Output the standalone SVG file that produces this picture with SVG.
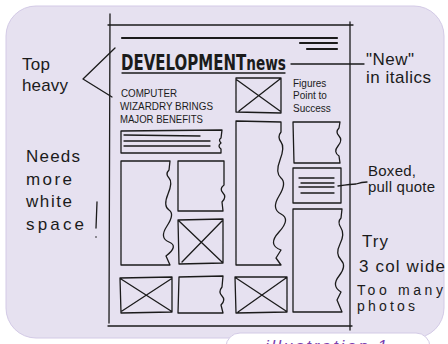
<svg xmlns="http://www.w3.org/2000/svg" width="448" height="344" viewBox="0 0 448 344">
<defs>
<style>
.ink{fill:none;stroke:#1b1b1b;stroke-width:1.3;stroke-linecap:round;stroke-linejoin:round}
.thick{fill:none;stroke:#1b1b1b;stroke-width:2.2;stroke-linecap:round}
.hand{font-family:"Liberation Sans","DejaVu Sans",sans-serif;font-size:17px;fill:#1b1b1b}
.hs{font-family:"Liberation Sans","DejaVu Sans",sans-serif;font-size:15px;fill:#1b1b1b}
.hx{font-family:"Liberation Sans","DejaVu Sans",sans-serif;font-size:14px;fill:#1b1b1b}
.small{font-family:"Liberation Sans","DejaVu Sans",sans-serif;font-size:11px;fill:#1b1b1b}
.tiny{font-family:"Liberation Sans","DejaVu Sans",sans-serif;font-size:10px;fill:#1b1b1b}
.title{font-family:"DejaVu Sans","Liberation Sans",sans-serif;font-stretch:condensed;font-weight:bold;font-size:22px;fill:#1b1b1b}
</style>
</defs>
<rect width="448" height="344" fill="#ffffff"/>
<rect x="6" y="6" width="438" height="332" rx="30" fill="#e6e1f0" stroke="#d3cae6" stroke-width="1"/>
<g id="tab">
<rect x="226" y="333" width="204" height="30" rx="14" fill="#ffffff" stroke="#d3cae6" stroke-width="1"/>
<text x="265" y="352" font-family="Liberation Sans, DejaVu Sans, sans-serif" font-size="17" font-style="italic" fill="#7a3fb0" textLength="122">illustration 1</text>
</g>
<g id="page">
<path class="ink" d="M110,14 L109,323"/>
<path class="ink" d="M108,25 L353,25"/>
<path class="ink" d="M350,22 L350,330"/>
<path class="ink" d="M108,326 L352,326"/>
<path class="thick" d="M122,38 L337,38"/>
<path class="thick" d="M300,43 L337,43"/>
<path class="thick" d="M307,49 L337,49"/>
</g>
<g id="headline">
<text class="title" x="121" y="70" textLength="165" lengthAdjust="spacingAndGlyphs">DEVELOPMENT<tspan font-size="20">news</tspan></text>
<path class="ink" d="M122,73 L285,73"/>
</g>
<g id="subhead">
<text class="small" x="121" y="97" textLength="56" lengthAdjust="spacingAndGlyphs">COMPUTER</text>
<text class="small" x="120" y="110" textLength="93" lengthAdjust="spacingAndGlyphs">WIZARDRY BRINGS</text>
<text class="small" x="120" y="123" textLength="83" lengthAdjust="spacingAndGlyphs">MAJOR BENEFITS</text>
</g>
<g id="intro-box">
<path class="ink" d="M121,131 L222,130 L221,138 Q218,140 221,143 Q217,146 221,149 L221,153 L121,153 Z"/>
<path class="ink" d="M124,135 L200,136 M124,141 L210,141 M124,146 L210,146"/>
</g>
<g id="col1-story">
<path class="ink" d="M121,161 L170,161 L169,170 Q165,174 169,178 T168,194 T169,210 T167,226 T169,242 T166,256 L170,265 L121,265 Z"/>
</g>
<g id="col2-story">
<path class="ink" d="M178,161 L224,161 L224,185 Q219,189 223,193 T222,202 L223,211 L178,211 Z"/>
</g>
<g id="col2-photo">
<path class="ink" d="M178,220 L223,219 L223,263 L179,264 Z M179,221 L222,262 M222,221 L182,262"/>
</g>
<g id="bottom-photo-1">
<path class="ink" d="M120,278 L172,277 L172,312 L121,313 Z M121,279 L171,311 M171,279 L122,311"/>
</g>
<g id="bottom-story">
<path class="ink" d="M179,277 L223,276 L222,287 Q218,292 222,296 T221,305 L223,313 L178,313 Z"/>
</g>
<g id="bottom-photo-2">
<path class="ink" d="M235,277 L287,277 L287,312 L236,313 Z M236,278 L286,311 M286,278 L238,312"/>
</g>
<g id="mid-photo">
<path class="ink" d="M236,78 L281,78 L281,113 L236,112 Z M237,80 L280,111 M280,79 L239,111"/>
</g>
<g id="mid-story">
<path class="ink" d="M236,121 L281,122 L281,132 Q277,137 281,142 T280,160 T281,178 T279,196 T281,214 T279,232 T281,250 L276,258 L281,265 L236,265 Z"/>
</g>
<g id="figures-head">
<text class="tiny" x="293" y="87">Figures</text>
<text class="tiny" x="293" y="99">Point to</text>
<text class="tiny" x="293" y="112">Success</text>
</g>
<g id="right-story">
<path class="ink" d="M293,122 L340,122 L339,128 Q335,132 339,136 T338,146 T339,156 L340,163 L294,163 Z"/>
</g>
<g id="pull-quote">
<path class="ink" d="M293,168 L341,168 L341,203 L293,203 Z"/>
<path class="ink" d="M299,178 L334,178 M301,183 L334,183 M299,187 L334,187 M301,193 L334,193"/>
</g>
<g id="right-long-story">
<path class="ink" d="M293,209 L342,209 L341,218 Q337,222 341,228 T340,244 T341,260 T339,276 T341,292 L337,300 L342,312 L293,312 Z"/>
</g>
<g id="connectors">
<path class="ink" d="M115,48 L83,79 L112,97"/>
<path class="ink" d="M291,64 L364,64"/>
<path class="ink" d="M338,186 Q352,184 356,184 Q362,182 367,182"/>
</g>
<g id="notes">
<text class="hand" x="22" y="70" textLength="28">Top</text>
<text class="hand" x="22" y="91" textLength="46">heavy</text>
<text class="hand" x="26" y="162" textLength="54">Needs</text>
<text class="hand" x="26" y="185" textLength="46">more</text>
<text class="hand" x="26" y="207" textLength="46">white</text>
<text class="hand" x="26" y="230" textLength="58">space</text>
<path class="ink" d="M97,202 L96,228"/>
<circle cx="96" cy="237" r="0.8" fill="#1b1b1b"/>
<text class="hand" x="366" y="65" textLength="48">"New"</text>
<text class="hand" x="366" y="83" textLength="65">in italics</text>
<text class="hs" x="368" y="176" textLength="48">Boxed,</text>
<text class="hs" x="368" y="192" textLength="67">pull quote</text>
<text class="hand" x="362" y="247" textLength="26">Try</text>
<text class="hand" x="359" y="272" textLength="86">3 col wide</text>
<text class="hx" x="357" y="295" textLength="86">Too many</text>
<text class="hx" x="357" y="311" textLength="58">photos</text>
</g>
</svg>
